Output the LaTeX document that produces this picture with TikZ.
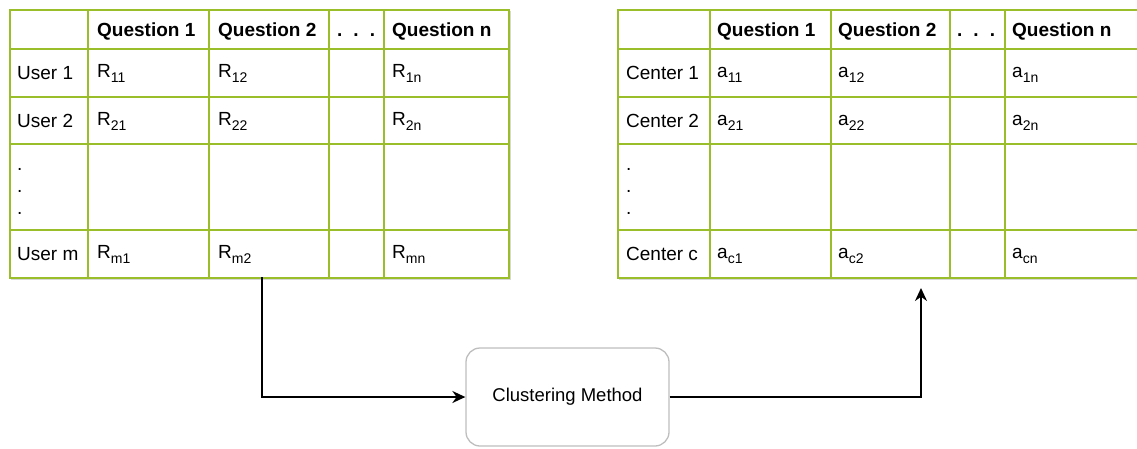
\documentclass[tikz,border=0pt]{standalone}
\usepackage{fontspec}
\setmainfont{Liberation Sans}
\usetikzlibrary{arrows.meta}
\definecolor{tgreen}{RGB}{154,190,42}
\definecolor{boxgray}{RGB}{190,190,190}
\definecolor{shadowgray}{RGB}{215,215,215}
\newcommand\fs{\fontsize{19}{22}\selectfont}
\newcommand\sbx[1]{\raisebox{-5pt}{\fontsize{14}{14}\selectfont #1}}
\begin{document}
\begin{tikzpicture}[x=1pt,y=-1pt,
  gl/.style={draw=tgreen, line width=2pt},
  tbl/.style={draw=tgreen, line width=2pt, fill=white, inner sep=0pt, anchor=north west},
  cell/.style={anchor=base west, inner sep=0pt, font=\fs},
  hdr/.style={cell, font=\fs\bfseries},
  conn/.style={draw=black, line width=1.7pt, -{Stealth[length=13pt,width=12pt]}}]
\useasboundingbox (0,0) rectangle (1137,448);

% ---------- left table ----------
\fill[shadowgray] (11,11) rectangle (511,280);
\node[tbl, minimum width=499pt, minimum height=268pt] (L) at (9,9) {};
\foreach \x in {88,209,329,384} \draw[gl] (\x,9) -- (\x,277);
\foreach \y in {49,97,144,230} \draw[gl] (9,\y) -- (508,\y);

\node[hdr] (lq1) at (97,36) {Question 1};
\node[hdr] (lq2) at (218,36) {Question 2};
\node[hdr] (ldh) at (337,36) {.\hspace{11pt}.\hspace{11pt}.};
\node[hdr] (lqn) at (392,36) {Question n};

\node[cell] (lu1) at (17,79) {User 1};
\node[cell] (lu2) at (17,127) {User 2};
\node[cell] (ldv1) at (17,170) {.};
\node[cell] (ldv2) at (17,192) {.};
\node[cell] (ldv3) at (17,214) {.};
\node[cell] (lum) at (17,260) {User m};

\node[cell] (r11) at (97,77) {R\sbx{11}};
\node[cell] (r12) at (218,77) {R\sbx{12}};
\node[cell] (r1n) at (392,77) {R\sbx{1n}};
\node[cell] (r21) at (97,125) {R\sbx{21}};
\node[cell] (r22) at (218,125) {R\sbx{22}};
\node[cell] (r2n) at (392,125) {R\sbx{2n}};
\node[cell] (rm1) at (97,258) {R\sbx{m1}};
\node[cell] (rm2) at (218,258) {R\sbx{m2}};
\node[cell] (rmn) at (392,258) {R\sbx{mn}};

% ---------- right table ----------
\fill[shadowgray] (619,11) rectangle (1165,280);
\node[tbl, minimum width=545pt, minimum height=268pt] (R) at (617,9) {};
\foreach \x in {710,831,950,1005} \draw[gl] (\x,9) -- (\x,277);
\foreach \y in {49,97,144,230} \draw[gl] (617,\y) -- (1162,\y);

\node[hdr] (rq1) at (717,36) {Question 1};
\node[hdr] (rq2) at (838,36) {Question 2};
\node[hdr] (rdh) at (957,36) {.\hspace{11pt}.\hspace{11pt}.};
\node[hdr] (rqn) at (1012,36) {Question n};

\node[cell] (c1) at (626,79) {Center 1};
\node[cell] (c2) at (626,127) {Center 2};
\node[cell] (rdv1) at (626,170) {.};
\node[cell] (rdv2) at (626,192) {.};
\node[cell] (rdv3) at (626,214) {.};
\node[cell] (cc) at (626,260) {Center c};

\node[cell] (a11) at (717,77) {a\sbx{11}};
\node[cell] (a12) at (838,77) {a\sbx{12}};
\node[cell] (a1n) at (1012,77) {a\sbx{1n}};
\node[cell] (a21) at (717,125) {a\sbx{21}};
\node[cell] (a22) at (838,125) {a\sbx{22}};
\node[cell] (a2n) at (1012,125) {a\sbx{2n}};
\node[cell] (ac1) at (717,258) {a\sbx{c1}};
\node[cell] (ac2) at (838,258) {a\sbx{c2}};
\node[cell] (acn) at (1012,258) {a\sbx{cn}};

% ---------- clustering box and connectors ----------
\node[draw=boxgray, line width=1.3pt, rounded corners=14pt, fill=white,
      minimum width=203pt, minimum height=98pt, inner sep=0pt,
      font=\fontsize{18.5}{22}\selectfont] (cm) at (567.5,397) {Clustering Method};

\coordinate (ls) at (262,277);
\coordinate (re) at (921,288);
\draw[conn] (ls) |- (cm.west);
\draw[conn] (cm.east) -| (re);
\end{tikzpicture}
\end{document}
